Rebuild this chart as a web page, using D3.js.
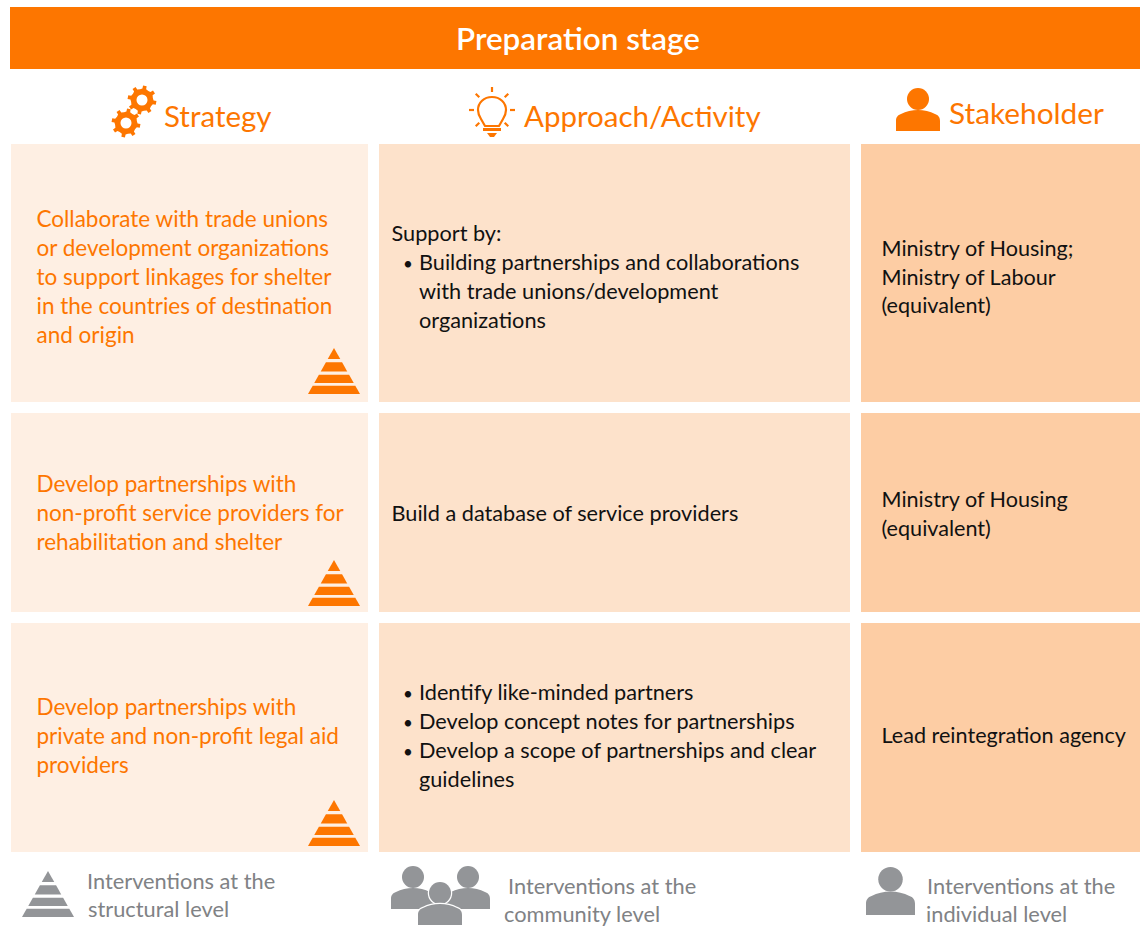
<!DOCTYPE html>
<html>
<head>
<meta charset="utf-8">
<script src="https://cdn.jsdelivr.net/npm/d3@7"></script>
<style>
  html, body { margin: 0; background: #fff; }
  svg { display: block; }
  text { font-family: Lato, sans-serif; }
</style>
</head>
<body>
<script>
'use strict';

const title = 'Preparation stage';
const columns = ['Strategy', 'Approach/Activity', 'Stakeholder'];
const strategies = [
  ['Collaborate with trade unions', 'or development organizations', 'to support linkages for shelter', 'in the countries of destination', 'and origin'],
  ['Develop partnerships with', 'non-profit service providers for', 'rehabilitation and shelter'],
  ['Develop partnerships with', 'private and non-profit legal aid', 'providers']
];
const activities = [
  ['Support by:', 'Building partnerships and collaborations', 'with trade unions/development', 'organizations'],
  ['Build a database of service providers'],
  ['Identify like-minded partners', 'Develop concept notes for partnerships', 'Develop a scope of partnerships and clear', 'guidelines']
];
// which lines of each activity cell start a bullet
const activityBullets = [
  ['Building partnerships and collaborations'],
  [],
  ['Identify like-minded partners', 'Develop concept notes for partnerships', 'Develop a scope of partnerships and clear']
];
const stakeholders = [
  ['Ministry of Housing;', 'Ministry of Labour', '(equivalent)'],
  ['Ministry of Housing', '(equivalent)'],
  ['Lead reintegration agency']
];
const legendLabels = [
  ['Interventions at the', 'structural level'],
  ['Interventions at the', 'community level'],
  ['Interventions at the', 'individual level']
];

const orange = '#fd7600';
const grey = '#939598';
const columnFills = ['#feefe3', '#fde2cb', '#fdcda4'];

// cell edges measured off the layout
const colEdges = [[11, 368], [379, 850], [861, 1140]];
const rowEdges = [[144, 402], [413, 612], [623, 852]];
// baseline of the first line in each cell, per column then per row
const firstBaselines = [[227.4, 492.4, 715.4], [241, 521, 700], [256, 507, 743]];
const pyramidTops = [348, 560, 800];
const lineHeight = 28.9;

const svg = d3.select('body').append('svg')
  .attr('width', 1140)
  .attr('height', 927);

svg.append('rect')
  .attr('x', 10).attr('y', 7)
  .attr('width', 1130).attr('height', 62)
  .attr('fill', orange);

svg.append('text')
  .attr('x', 578).attr('y', 50)
  .attr('text-anchor', 'middle')
  .attr('font-size', 31.4)
  .attr('font-weight', 600)
  .attr('fill', '#fff')
  .text(title);

const headerX = [164, 524, 949];
const headerY = [127, 127, 124];
const headerSize = [29.5, 29.5, 29.8];
svg.selectAll('.col-head')
  .data(columns)
  .enter()
  .append('text')
  .attr('class', 'col-head')
  .attr('x', (d, i) => headerX[i])
  .attr('y', (d, i) => headerY[i])
  .attr('font-size', (d, i) => headerSize[i])
  .attr('font-weight', 400)
  .attr('fill', orange)
  .text(d => d);

// background cells
colEdges.forEach((col, c) => {
  svg.append('g').selectAll('rect')
    .data(rowEdges)
    .enter()
    .append('rect')
    .attr('x', col[0])
    .attr('y', d => d[0])
    .attr('width', col[1] - col[0])
    .attr('height', d => d[1] - d[0])
    .attr('fill', columnFills[c]);
});

function drawLines(lines, x, y, fill, size, weight, step = lineHeight) {
  svg.append('g').selectAll('text')
    .data(lines)
    .enter()
    .append('text')
    .attr('x', (d, i) => x(d, i))
    .attr('y', (d, i) => y + i * step)
    .attr('font-size', size)
    .attr('font-weight', weight)
    .attr('fill', fill)
    .text(d => d);
}

strategies.forEach((lines, r) => {
  drawLines(lines, () => 36.5, firstBaselines[0][r], orange, 22.5, 400);
});

activities.forEach((lines, r) => {
  const bullets = activityBullets[r];
  const indent = d => d !== 'Support by:' && bullets.length > 0;
  drawLines(lines, d => indent(d) ? 419 : 391.5, firstBaselines[1][r], '#111', 21.7, 400);
  svg.append('g').selectAll('text')
    .data(bullets)
    .enter()
    .append('text')
    .attr('x', 403)
    .attr('y', d => firstBaselines[1][r] + lines.indexOf(d) * lineHeight)
    .attr('font-size', 17)
    .attr('fill', '#111')
    .text('•');
});

stakeholders.forEach((lines, r) => {
  drawLines(lines, () => 881.5, firstBaselines[2][r], '#111', 21.6, 400, 28.6);
});

const legendX = [[87, 88], [508, 504], [927, 926]];
const legendY = [888.5, 893.5, 893.5];
legendLabels.forEach((lines, k) => {
  drawLines(lines, (d, i) => legendX[k][i], legendY[k], '#808285', 21.8, 400, 28.4);
});

// icons
function pyramid(x, y, fill) {
  const w = 52, h = 46;
  const bands = [[0, 0.24], [0.31, 0.51], [0.58, 0.76], [0.82, 1]];
  const g = svg.append('g').attr('transform', 'translate(' + [x, y] + ')');
  g.selectAll('path')
    .data(bands)
    .enter()
    .append('path')
    .attr('fill', fill)
    .attr('d', d => {
      const p = d3.path();
      p.moveTo(w / 2 - d[0] * w / 2, d[0] * h);
      p.lineTo(w / 2 + d[0] * w / 2, d[0] * h);
      p.lineTo(w / 2 + d[1] * w / 2, d[1] * h);
      p.lineTo(w / 2 - d[1] * w / 2, d[1] * h);
      p.closePath();
      return p.toString();
    });
}

function person(x, y, w, fill, stroke) {
  const k = w / 44;
  const g = svg.append('g')
    .attr('transform', 'translate(' + [x, y] + ') scale(' + k + ')')
    .attr('fill', fill);
  if (stroke) g.attr('stroke', stroke).attr('stroke-width', 2.5).attr('paint-order', 'stroke');
  g.append('circle').attr('cx', 22).attr('cy', 11).attr('r', 11);
  g.append('path').attr('d', 'M0 43V33C0 29 2 27 5 26C10 23.5 16 22 22 22C28 22 34 23.5 39 26C42 27 44 29 44 33V43Z');
}

function gear(cx, cy, r) {
  const teeth = 8;
  const pts = [];
  d3.range(teeth).forEach(i => {
    const a = i * 2 * Math.PI / teeth + 0.2;
    const s = Math.PI / teeth;
    pts.push([a - s * 0.95, r * 0.76], [a - s * 0.42, r * 0.8], [a - s * 0.32, r], [a + s * 0.32, r], [a + s * 0.42, r * 0.8]);
  });
  const radial = d3.lineRadial().angle(d => d[0]).radius(d => d[1]).curve(d3.curveLinearClosed);
  svg.append('path')
    .attr('transform', 'translate(' + [cx, cy] + ')')
    .attr('fill', orange)
    .attr('fill-rule', 'evenodd')
    .attr('d', radial(pts) + d3.arc()({innerRadius: 0, outerRadius: r * 0.38, startAngle: 0, endAngle: 2 * Math.PI}));
}

function bulb(cx, cy) {
  const g = svg.append('g')
    .attr('transform', 'translate(' + [cx, cy] + ')')
    .attr('fill', 'none')
    .attr('stroke', orange)
    .attr('stroke-width', 2.2);
  g.append('path')
    .attr('stroke-linejoin', 'round')
    .attr('d', 'M-7 15L-11 8C-13.5 4 -14 2 -14 -1C-14 -8.5 -8 -14 0 -14C8 -14 14 -8.5 14 -1C14 2 13.5 4 11 8L7 15Z');
  const rays = [-180, -135, -90, -45, 0, 45, 135];
  g.selectAll('line')
    .data(rays)
    .enter()
    .append('line')
    .attr('x1', a => 18 * Math.cos(a * Math.PI / 180))
    .attr('y1', a => 18 * Math.sin(a * Math.PI / 180) - 1)
    .attr('x2', a => 23 * Math.cos(a * Math.PI / 180))
    .attr('y2', a => 23 * Math.sin(a * Math.PI / 180) - 1);
  g.append('path').attr('fill', orange).attr('stroke', 'none').attr('d', 'M-9 17H9V20H-9Z');
  g.append('path').attr('fill', orange).attr('stroke', 'none').attr('d', 'M-5 22H5L2 26H-2Z');
}

gear(142, 100, 14.5);
gear(126, 123, 14.5);
bulb(492, 111);
person(896, 88, 44, orange);

pyramidTops.forEach(top => pyramid(308, top, orange));
pyramid(22, 871, grey);

person(391, 866, 44, grey);
person(446, 866, 44, grey);
person(418, 882, 44, grey, '#fff');
person(866, 867, 49, grey);
</script>
</body>
</html>
